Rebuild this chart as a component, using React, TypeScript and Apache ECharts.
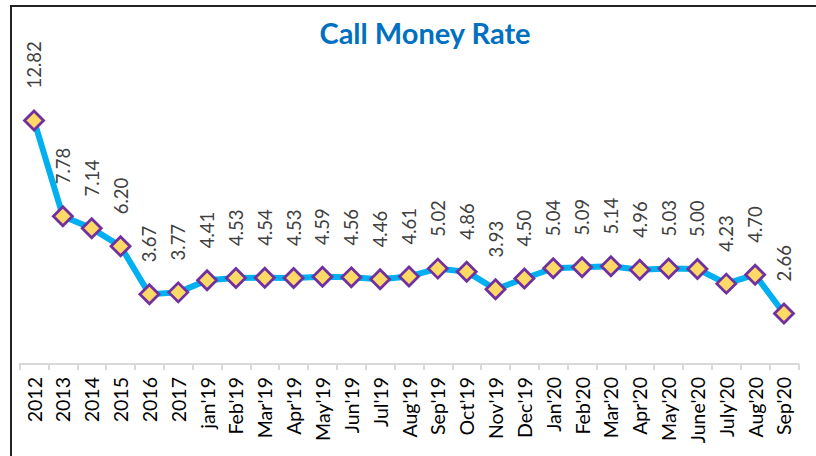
import React, { useEffect, useRef } from "react";
import * as echarts from "echarts";

const categories = [
  "2012", "2013", "2014", "2015", "2016", "2017",
  "jan'19", "Feb'19", "Mar'19", "Apr'19", "May'19", "Jun'19", "Jul'19", "Aug'19", "Sep'19", "Oct'19", "Nov'19", "Dec'19",
  "Jan'20", "Feb'20", "Mar'20", "Apr'20", "May'20", "June'20", "July'20", "Aug'20", "Sep'20",
];
const rates = [
  12.82, 7.78, 7.14, 6.2, 3.67, 3.77,
  4.41, 4.53, 4.54, 4.53, 4.59, 4.56, 4.46, 4.61, 5.02, 4.86, 3.93, 4.5,
  5.04, 5.09, 5.14, 4.96, 5.03, 5.0, 4.23, 4.7, 2.66,
];

const FONT = "Lato, 'Open Sans', sans-serif";

export default function App() {
  const ref = useRef<HTMLDivElement>(null);
  useEffect(() => {
    if (!ref.current) return;
    const chart = echarts.init(ref.current, null, { renderer: "svg" });
    chart.setOption({
      animation: false,
      backgroundColor: "#ffffff",
      title: {
        text: "Call Money Rate",
        left: 420,
        top: 13,
        textAlign: "center",
        textStyle: { color: "#0070C0", fontSize: 29, fontWeight: "bold", fontFamily: FONT },
      },
      grid: { left: 19.6, right: 17.6, top: 98, bottom: 92, containLabel: false },
      xAxis: {
        type: "category",
        data: categories,
        boundaryGap: true,
        axisLine: { lineStyle: { color: "#d9d9d9", width: 2 } },
        axisTick: { show: true, length: 6, lineStyle: { color: "#d9d9d9", width: 2 } },
        axisLabel: {
          rotate: 90,
          interval: 0,
          margin: 13,
          color: "#000000",
          fontSize: 19.5,
          fontFamily: FONT,
        },
      },
      yAxis: {
        type: "value",
        min: 0,
        max: 14,
        show: false,
        splitLine: { show: false },
      },
      series: [
        {
          type: "line",
          data: rates,
          lineStyle: { color: "#00B0F0", width: 6 },
          symbol: "diamond",
          symbolSize: 19,
          itemStyle: { color: "#FFD966", borderColor: "#7030A0", borderWidth: 2.8 },
          label: {
            show: true,
            position: "top",
            distance: 21,
            rotate: 90,
            align: "left",
            verticalAlign: "middle",
            color: "#404040",
            fontSize: 18.5,
            fontFamily: FONT,
            formatter: (p: any) => p.value.toFixed(2),
          },
        },
      ],
      graphic: [
        { type: "line", shape: { x1: 10, y1: 6, x2: 816, y2: 6 }, style: { stroke: "#222222", lineWidth: 2 } },
        { type: "line", shape: { x1: 11, y1: 6, x2: 11, y2: 456 }, style: { stroke: "#222222", lineWidth: 2 } },
      ],
    });
    return () => chart.dispose();
  }, []);
  return <div ref={ref} style={{ width: 816, height: 456, position: "absolute", left: 0, top: 0 }} />;
}
